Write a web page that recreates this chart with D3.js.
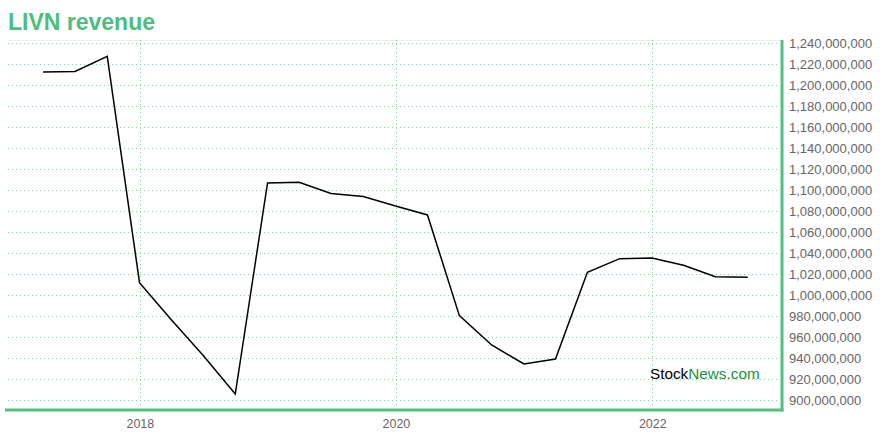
<!DOCTYPE html>
<html>
<head>
<meta charset="utf-8">
<script src="https://cdn.jsdelivr.net/npm/d3@7"></script>
<style>
  html, body { margin: 0; padding: 0; background: #fff; }
  svg { display: block; font-family: "Liberation Sans", Arial, Helvetica, sans-serif; }
</style>
</head>
<body>
<svg id="chart" width="880" height="440"></svg>
<script>
// ---- data ----
const dates = [
  "2017-03-31","2017-06-30","2017-09-30","2017-12-31",
  "2018-03-31","2018-06-30","2018-09-30","2018-12-31",
  "2019-03-31","2019-06-30","2019-09-30","2019-12-31",
  "2020-03-31","2020-06-30","2020-09-30","2020-12-31",
  "2021-03-31","2021-06-30","2021-09-30","2021-12-31",
  "2022-03-31","2022-06-30","2022-09-30"
];
const revenue = [
  1212700000, 1213200000, 1227600000, 1012000000,
  977000000, 943000000, 906000000, 1107000000,
  1107600000, 1097000000, 1094000000, 1085000000,
  1076500000, 980600000, 952700000, 934600000,
  939300000, 1021900000, 1034900000, 1035500000,
  1028600000, 1017700000, 1017100000
];
const yTicks = d3.range(900000000, 1240000001, 20000000);
const xTickYears = ["2018", "2020", "2022"];
const title = "LIVN revenue";

// ---- layout ----
const svg = d3.select("#chart");
const pLeft = 8, pRight = 782, pTop = 40, pBottom = 410;
const parse = d3.timeParse("%Y-%m-%d");
const points = dates.map((d, i) => ({ date: parse(d), value: revenue[i] }));

const x = d3.scaleTime()
  .domain([parse("2016-12-21"), parse("2023-01-03")])
  .range([pLeft, pRight - 1]);
const y = d3.scaleLinear()
  .domain([900000000, 1240000000])
  .range([400.3, 43.3]);

const green = "#52c084";
const gridColor = "#80d4a4";

// title
svg.append("text")
  .attr("x", 8).attr("y", 30)
  .attr("fill", "#4cbe7e")
  .attr("font-size", 23).attr("font-weight", "bold")
  .text(title);

// faint top border
svg.append("line")
  .attr("x1", pLeft).attr("x2", pRight)
  .attr("y1", pTop + 0.5).attr("y2", pTop + 0.5)
  .attr("stroke", "#eeeeee");

// horizontal grid
svg.append("g").selectAll("line").data(yTicks).join("line")
  .attr("x1", pLeft).attr("x2", pRight - 2)
  .attr("y1", d => Math.round(y(d)) + 0.5).attr("y2", d => Math.round(y(d)) + 0.5)
  .attr("stroke", gridColor).attr("stroke-width", 1)
  .attr("stroke-dasharray", "1,3");

// vertical grid
const xTickDates = xTickYears.map(s => parse(s + "-01-01"));
svg.append("g").selectAll("line").data(xTickDates).join("line")
  .attr("x1", d => Math.round(x(d)) + 0.5).attr("x2", d => Math.round(x(d)) + 0.5)
  .attr("y1", pTop).attr("y2", pBottom - 2)
  .attr("stroke", gridColor).attr("stroke-width", 1)
  .attr("stroke-dasharray", "1,3");

// right axis
const yAxis = d3.axisRight(y).tickValues(yTicks).tickSize(0).tickPadding(7)
  .tickFormat(d3.format(","));
const gy = svg.append("g").attr("transform", `translate(${pRight},0)`).call(yAxis);
gy.select(".domain").remove();
gy.selectAll("text").attr("fill", "#666").attr("font-size", 13)
  .attr("font-family", "Liberation Sans, Arial, sans-serif");

// bottom axis
const xAxis = d3.axisBottom(x).tickValues(xTickDates).tickSize(0).tickPadding(9)
  .tickFormat(d3.timeFormat("%Y"));
const gx = svg.append("g").attr("transform", `translate(0,${pBottom})`).call(xAxis);
gx.select(".domain").remove();
gx.selectAll("text").attr("fill", "#666").attr("font-size", 12.5)
  .attr("font-family", "Liberation Sans, Arial, sans-serif");

// axis lines (green)
svg.append("line")
  .attr("x1", 5).attr("x2", pRight + 1.5)
  .attr("y1", pBottom).attr("y2", pBottom)
  .attr("stroke", green).attr("stroke-width", 3);
svg.append("line")
  .attr("x1", pRight).attr("x2", pRight)
  .attr("y1", pTop).attr("y2", pBottom + 1.5)
  .attr("stroke", green).attr("stroke-width", 3);

// line
const line = d3.line().x(d => x(d.date)).y(d => y(d.value));
svg.append("path").datum(points)
  .attr("d", line)
  .attr("fill", "none")
  .attr("stroke", "#000")
  .attr("stroke-width", 1.5)
  .attr("stroke-linejoin", "miter");

// watermark
const wm = svg.append("text")
  .attr("x", 650).attr("y", 379)
  .attr("font-size", 15.3);
wm.append("tspan").attr("fill", "#000").text("Stock");
wm.append("tspan").attr("fill", "#1a8f3c").text("News.com");
</script>
</body>
</html>
